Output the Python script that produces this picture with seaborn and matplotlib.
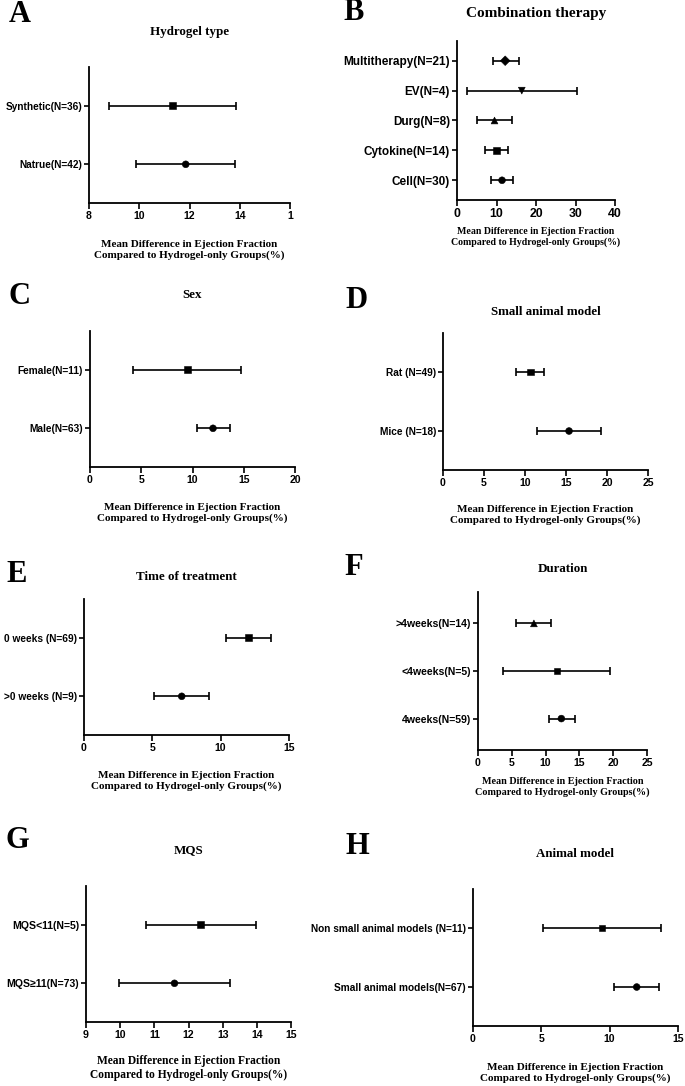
import numpy as np
import pandas as pd
import matplotlib
matplotlib.use('Agg')
import matplotlib.pyplot as plt
import seaborn as sns

sns.set_style('ticks')
plt.rcParams['font.family'] = ['Liberation Sans', 'DejaVu Sans']
plt.rcParams['text.color'] = 'black'
plt.rcParams['axes.edgecolor'] = 'black'

# A - Hydrogel type
a_groups = ['Synthetic(N=36)', 'Natrue(N=42)']
a_mean = [11.33, 11.85]
a_low = [8.8, 9.87]
a_high = [13.85, 13.8]
a_marks = ['s', 'o']

# B - Combination therapy
b_groups = ['Multitherapy(N=21)', 'EV(N=4)', 'Durg(N=8)', 'Cytokine(N=14)', 'Cell(N=30)']
b_mean = [12.2, 16.4, 9.5, 10.0, 11.4]
b_low = [9.0, 2.5, 5.1, 7.2, 8.6]
b_high = [15.7, 30.5, 13.9, 12.8, 14.1]
b_marks = ['D', 'v', '^', 's', 'o']

# C - Sex
c_groups = ['Female(N=11)', 'Male(N=63)']
c_mean = [9.48, 12.0]
c_low = [4.2, 10.4]
c_high = [14.7, 13.7]
c_marks = ['s', 'o']

# D - Small animal model
d_groups = ['Rat (N=49)', 'Mice (N=18)']
d_mean = [10.65, 15.37]
d_low = [8.9, 11.46]
d_high = [12.3, 19.3]
d_marks = ['s', 'o']

# E - Time of treatment
e_groups = ['0 weeks (N=69)', '>0 weeks (N=9)']
e_mean = [12.02, 7.15]
e_low = [10.37, 5.12]
e_high = [13.68, 9.17]
e_marks = ['s', 'o']

# F - Duration
f_groups = ['>4weeks(N=14)', '<4weeks(N=5)', '4weeks(N=59)']
f_mean = [8.27, 11.68, 12.33]
f_low = [5.6, 3.7, 10.54]
f_high = [10.74, 19.55, 14.3]
f_marks = ['^', 's', 'o']

# G - MQS
g_groups = ['MQS<11(N=5)', 'MQS\u226511(N=73)']
g_mean = [12.34, 11.59]
g_low = [10.75, 9.98]
g_high = [13.98, 13.21]
g_marks = ['s', 'o']

# H - Animal model
h_groups = ['Non small animal models (N=11)', 'Small animal models(N=67)']
h_mean = [9.44, 11.98]
h_low = [5.12, 10.29]
h_high = [13.73, 13.6]
h_marks = ['s', 'o']

xlab = 'Mean Difference in Ejection Fraction\nCompared to Hydrogel-only Groups(%)'
W, H = 685, 1086
fig = plt.figure(figsize=(W / 100, H / 100), dpi=100)
serif = 'Liberation Serif'


def forest(box, groups, mean, low, high, marks, xlim, xticks, xticklabels,
           title, title_y, letter, letter_xy, xlab_y,
           ysize=7.3, xsize=7.6, tsize=9.4, lsize=8.0, label=xlab):
    l, r, t, b = box
    ax = fig.add_axes([l / W, 1 - b / H, (r - l) / W, (b - t) / H])
    n = len(groups)
    df = pd.DataFrame({'group': groups, 'mean': mean, 'low': low, 'high': high,
                       'pos': np.arange(n)[::-1]})
    ax.errorbar(df['mean'], df['pos'],
                xerr=[df['mean'] - df['low'], df['high'] - df['mean']],
                fmt='none', ecolor='black', elinewidth=1.2, capsize=2.7, capthick=1.2)
    sns.scatterplot(data=df, x='mean', y='pos', style='group',
                    markers=dict(zip(groups, marks)), color='black',
                    edgecolor='black', s=24, legend=False, ax=ax, zorder=3)
    ax.set_xlim(xlim)
    ax.set_ylim(-0.66, n - 1 + 0.66)
    ax.set_xticks(xticks)
    ax.set_xticklabels(xticklabels, fontsize=xsize, fontweight='bold')
    ax.set_yticks(df['pos'])
    ax.set_yticklabels(groups, fontsize=ysize, fontweight='bold')
    ax.set_xlabel('')
    ax.set_ylabel('')
    sns.despine(ax=ax)
    for s in ['left', 'bottom']:
        ax.spines[s].set_linewidth(1.3)
        ax.spines[s].set_color('black')
    ax.tick_params(axis='x', length=4, width=1.2, pad=2, colors='black')
    ax.tick_params(axis='y', length=3.5, width=1.2, pad=1.5, colors='black')
    cx = (l + r) / 2 / W
    fig.text(cx, 1 - title_y / H, title, ha='center', va='center',
             family=serif, fontweight='bold', fontsize=tsize)
    fig.text(cx, 1 - xlab_y / H, label, ha='center', va='center',
             family=serif, fontweight='bold', fontsize=lsize, linespacing=1.2)
    fig.text(letter_xy[0] / W, 1 - letter_xy[1] / H, letter, ha='center', va='center',
             family=serif, fontweight='bold', fontsize=22)
    return ax


forest((89, 290, 67, 203), a_groups, a_mean, a_low, a_high, a_marks,
       (8, 16), [8, 10, 12, 14, 16], ['8', '10', '12', '14', '1'],
       'Hydrogel type', 32, 'A', (20, 14), 250)
forest((457, 615, 41, 200), b_groups, b_mean, b_low, b_high, b_marks,
       (0, 40), [0, 10, 20, 30, 40], ['0', '10', '20', '30', '40'],
       'Combination therapy', 14, 'B', (354, 13), 237,
       ysize=8.5, xsize=8.8, tsize=11, lsize=7.1)
forest((90, 295, 331, 467), c_groups, c_mean, c_low, c_high, c_marks,
       (0, 20), [0, 5, 10, 15, 20], ['0', '5', '10', '15', '20'],
       'Sex', 295, 'C', (20, 297), 513)
forest((443, 648, 333, 470), d_groups, d_mean, d_low, d_high, d_marks,
       (0, 25), [0, 5, 10, 15, 20, 25], ['0', '5', '10', '15', '20', '25'],
       'Small animal model', 312, 'D', (356, 301), 515)
forest((84, 289, 599, 735), e_groups, e_mean, e_low, e_high, e_marks,
       (0, 15), [0, 5, 10, 15], ['0', '5', '10', '15'],
       'Time of treatment', 577, 'E', (17, 575), 781)
forest((478, 647, 592, 750), f_groups, f_mean, f_low, f_high, f_marks,
       (0, 25), [0, 5, 10, 15, 20, 25], ['0', '5', '10', '15', '20', '25'],
       'Duration', 569, 'F', (354, 567), 787,
       ysize=7.6, lsize=7.3)
forest((86, 291, 886, 1022), g_groups, g_mean, g_low, g_high, g_marks,
       (9, 15), [9, 10, 11, 12, 13, 14, 15], ['9', '10', '11', '12', '13', '14', '15'],
       'MQS', 850, 'G', (17, 841), 1068, ysize=7.6, lsize=8.3)
forest((473, 678, 889, 1026), h_groups, h_mean, h_low, h_high, h_marks,
       (0, 15), [0, 5, 10, 15], ['0', '5', '10', '15'],
       'Animal model', 854, 'H', (357, 846), 1073)

fig.savefig('out.png', dpi=100, facecolor='white')
